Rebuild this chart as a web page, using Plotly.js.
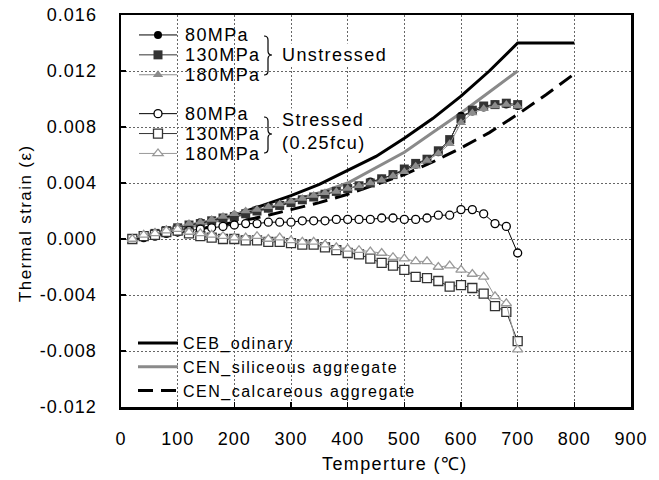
<!DOCTYPE html>
<html><head><meta charset="utf-8">
<script src="https://cdn.plot.ly/plotly-3.0.1.min.js"></script>
<style>
html,body{margin:0;padding:0;background:#fff;}
#chart{width:659px;height:480px;}
.annotation-text{letter-spacing:1.4px;}
text.legendtext, g.legend text, g.legend2 text{letter-spacing:1.5px !important;}
g.legend .scrollbox, g.legend2 .scrollbox{clip-path:none !important;}
.xtick text,.ytick text{letter-spacing:1px;}
</style></head><body><div id="chart"></div>
<script>
// ---- data ----
const tempC = [20,40,60,80,100,120,140,160,180,200,220,240,260,280,300,320,340,360,380,400,420,440,460,480,500,520,540,560,580,600,620,640,660,680,700];

const unstressed80  = [0,0.0002,0.0004,0.0006,0.0008,0.0010,0.0012,0.0013,0.0015,0.0017,0.0019,0.0021,0.0022,0.0024,0.0026,0.0028,0.0030,0.0032,0.0034,0.0036,0.0038,0.0041,0.0043,0.0046,0.0049,0.0053,0.0057,0.0062,0.0070,0.0088,0.0091,0.0094,0.0096,0.0096,0.0095];
const unstressed130 = [0,0.0002,0.0004,0.0006,0.0008,0.0010,0.0011,0.0013,0.0015,0.0016,0.0018,0.0020,0.0022,0.0024,0.0026,0.0028,0.0030,0.0032,0.0034,0.0036,0.0038,0.0040,0.0043,0.0046,0.0050,0.0054,0.0057,0.0063,0.0071,0.0086,0.0092,0.0095,0.0096,0.0097,0.0096];
const unstressed180 = [0,0.0003,0.0005,0.0007,0.0009,0.0011,0.0012,0.0014,0.0016,0.0018,0.0020,0.0021,0.0023,0.0025,0.0027,0.0029,0.0031,0.0033,0.0034,0.0036,0.0038,0.0040,0.0042,0.0045,0.0048,0.0052,0.0056,0.0061,0.0068,0.0083,0.0090,0.0093,0.0095,0.0096,0.0095];

const stressed80  = [0,0.0001,0.0002,0.0004,0.0005,0.0006,0.0007,0.0008,0.0009,0.0010,0.0011,0.0011,0.0012,0.0012,0.0012,0.0013,0.0013,0.0013,0.0014,0.0014,0.0014,0.0014,0.0015,0.0015,0.0014,0.0014,0.0015,0.0017,0.0017,0.0021,0.0021,0.0018,0.0011,0.0009,-0.0010];
const stressed130 = [0,0.0002,0.0003,0.0005,0.0006,0.0004,0.0002,0.0001,0.0000,0.0000,-0.0001,-0.0001,-0.0002,-0.0002,-0.0003,-0.0004,-0.0004,-0.0006,-0.0008,-0.0010,-0.0011,-0.0014,-0.0017,-0.0019,-0.0022,-0.0027,-0.0028,-0.0030,-0.0034,-0.0033,-0.0035,-0.0039,-0.0048,-0.0052,-0.0073];
const stressed180 = [0,0.0003,0.0004,0.0006,0.0007,0.0005,0.0004,0.0003,0.0002,0.0001,0.0001,0.0002,0.0000,0.0001,-0.0001,-0.0002,-0.0002,-0.0004,-0.0006,-0.0007,-0.0008,-0.0009,-0.0010,-0.0013,-0.0014,-0.0016,-0.0016,-0.0020,-0.0019,-0.0022,-0.0025,-0.0027,-0.0041,-0.0046,-0.0079];

const cebTemp = [20,50,100,150,200,250,300,350,400,450,500,550,600,650,700,800];
const cebOrdinary = [0,0.0003,0.0007,0.0012,0.0017,0.0024,0.0031,0.0039,0.0049,0.0059,0.0072,0.0086,0.0102,0.0120,0.0140,0.0140];

const silTemp = [20,50,100,150,200,250,300,350,400,450,500,550,600,650,700];
const cenSiliceous = [0,0.0003,0.0007,0.0011,0.0016,0.0021,0.0027,0.0033,0.0040,0.0051,0.0062,0.0076,0.0090,0.0105,0.0120];

const calTemp = [20,50,100,150,200,250,300,350,400,450,500,550,600,650,700,750,800];
const cenCalcareous = [0,0.0002,0.0005,0.0008,0.0012,0.0016,0.0021,0.0026,0.0032,0.0039,0.0046,0.0055,0.0065,0.0076,0.0089,0.0103,0.0118];

const yTickVals = [-0.012,-0.008,-0.004,0,0.004,0.008,0.012,0.016];
const yTickText = ["-0.012","-0.008","-0.004","0.000","0.004","0.008","0.012","0.016"];
const xTickVals = [0,100,200,300,400,500,600,700,800,900];
const xTickText = ["0","100","200","300","400","500","600","700","800","900"];

const seriesNames = ["80MPa","130MPa","180MPa","80MPa","130MPa","180MPa"];
const groupLabels = ["Unstressed","Stressed<br>(0.25fcu)"];
const refNames = ["CEB_odinary","CEN_siliceous aggregate","CEN_calcareous aggregate"];

// ---- layout helpers (pixel -> paper) ----
const W=659,H=480,L=121,R=631,T=15,B=407;
const px2x = p => (p-L)/(R-L);
const py2y = p => (B-p)/(B-T);
const FONT = "Liberation Sans, Arial, sans-serif";

const traces = [
  {x:cebTemp, y:cebOrdinary, name:refNames[0], mode:'lines', line:{color:'#000', width:3}, legend:'legend2'},
  {x:silTemp, y:cenSiliceous, name:refNames[1], mode:'lines', line:{color:'#8a8a8a', width:3}, legend:'legend2'},
  {x:calTemp, y:cenCalcareous, name:refNames[2], mode:'lines', line:{color:'#000', width:3, dash:'15px,8px'}, legend:'legend2'},
  {x:tempC, y:unstressed80, name:'', legendgroup:'u', mode:'lines+markers', line:{color:'#000',width:1},
   marker:{symbol:'circle', size:8, color:'#000'}},
  {x:tempC, y:unstressed130, name:'', legendgroup:'u', mode:'lines+markers', line:{color:'#333',width:1},
   marker:{symbol:'square', size:9, color:'#333'}},
  {x:tempC, y:unstressed180, name:'', legendgroup:'u', mode:'lines+markers', line:{color:'#8c8c8c',width:1},
   marker:{symbol:'triangle-up', size:9, color:'#8c8c8c'}},
  {x:tempC, y:stressed80, name:'', legendgroup:'s', mode:'lines+markers', line:{color:'#000',width:1},
   marker:{symbol:'circle', size:8, color:'#fff', line:{color:'#000',width:1.3}}},
  {x:tempC, y:stressed130, name:'', legendgroup:'s', mode:'lines+markers', line:{color:'#333',width:1},
   marker:{symbol:'square', size:9, color:'#fff', line:{color:'#333',width:1.3}}},
  {x:tempC, y:stressed180, name:'', legendgroup:'s', mode:'lines+markers', line:{color:'#999',width:1},
   marker:{symbol:'triangle-up', size:9, color:'#fff', line:{color:'#999',width:1.3}}}
];

const rowY = [35,55,75,114,134,154];
const annotations = [];
seriesNames.forEach((n,i)=>annotations.push({xref:'paper',yref:'paper',x:px2x(183),y:py2y(rowY[i]),xanchor:'left',yanchor:'middle',
  text:n, showarrow:false, font:{family:FONT,size:18,color:'#000'}}));
annotations.push({xref:'paper',yref:'paper',x:px2x(280),y:py2y(55),xanchor:'left',yanchor:'middle',text:groupLabels[0],
  showarrow:false,bgcolor:'#fff',font:{family:FONT,size:18,color:'#000'}});
annotations.push({xref:'paper',yref:'paper',x:px2x(280),y:py2y(131),xanchor:'left',yanchor:'middle',text:groupLabels[1],align:'left',
  showarrow:false,bgcolor:'#fff',font:{family:FONT,size:18,color:'#000'}});
annotations.push({xref:'paper',yref:'paper',x:px2x(395),y:py2y(464),xanchor:'center',yanchor:'middle',text:'Temperture (℃)',
  showarrow:false,font:{family:FONT,size:18,color:'#000'}});
annotations.push({xref:'paper',yref:'paper',x:px2x(25),y:py2y(224),xanchor:'center',yanchor:'middle',text:'Thermal strain (ε)',textangle:-90,
  showarrow:false,font:{family:FONT,size:17,color:'#000'}});

function brace(x0,x1,x2,yT,yM,yB){
  const P=(x,y)=>px2x(x)+','+py2y(y);
  return 'M'+P(x0,yT)+' Q'+P(x1,yT)+' '+P(x1,yT+4)+' L'+P(x1,yM-4)+' Q'+P(x1,yM)+' '+P(x2,yM)+
         ' Q'+P(x1,yM)+' '+P(x1,yM+4)+' L'+P(x1,yB-4)+' Q'+P(x1,yB)+' '+P(x0,yB);
}
const white = (a,b,c,d)=>({type:'rect',xref:'paper',yref:'paper',layer:'between',x0:px2x(a),x1:px2x(b),y0:py2y(c),y1:py2y(d),
  fillcolor:'#fff',line:{width:0}});
const shapes = [
  white(123,274,17,163),
  white(182,466,333,377),
  white(182,456,377,405),
  {type:'path',xref:'paper',yref:'paper',path:brace(264,268,272,36,55,75),line:{color:'#000',width:1.2}},
  {type:'path',xref:'paper',yref:'paper',path:brace(264,268,272,117,134,153),line:{color:'#000',width:1.2}}
];

const axisCommon = {ticks:'inside',ticklen:5,tickwidth:1.5,tickcolor:'#000',showline:true,linewidth:2.5,linecolor:'#000',
  mirror:true,showgrid:true,gridcolor:'#666',gridwidth:1,griddash:'2px,2px',zeroline:false,
  tickfont:{family:FONT,size:18,color:'#000'}};

const layout = {
  width:W,height:H,paper_bgcolor:'#fff',plot_bgcolor:'#fff',
  margin:{l:L,r:W-R,t:T,b:H-B,pad:0},
  xaxis:Object.assign({},axisCommon,{range:[0,900],tickmode:'array',tickvals:xTickVals,ticktext:xTickText,ticklabelstandoff:14}),
  yaxis:Object.assign({},axisCommon,{range:[-0.012,0.016],tickmode:'array',tickvals:yTickVals,ticktext:yTickText,ticklabelstandoff:18}),
  showlegend:true,
  legend:{x:px2x(134),xanchor:'left',y:py2y(20),yanchor:'top',bgcolor:'rgba(0,0,0,0)',borderwidth:0,
    font:{family:FONT,size:13,color:'#000'},traceorder:'grouped',tracegroupgap:19,itemwidth:38},
  legend2:{x:px2x(133),xanchor:'left',y:py2y(326),yanchor:'top',bgcolor:'rgba(0,0,0,0)',borderwidth:0,
    font:{family:FONT,size:16,color:'#000'},itemwidth:40},
  annotations:annotations,
  shapes:shapes
};

Plotly.newPlot('chart',traces,layout,{staticPlot:true,displayModeBar:false});
</script></body></html>
